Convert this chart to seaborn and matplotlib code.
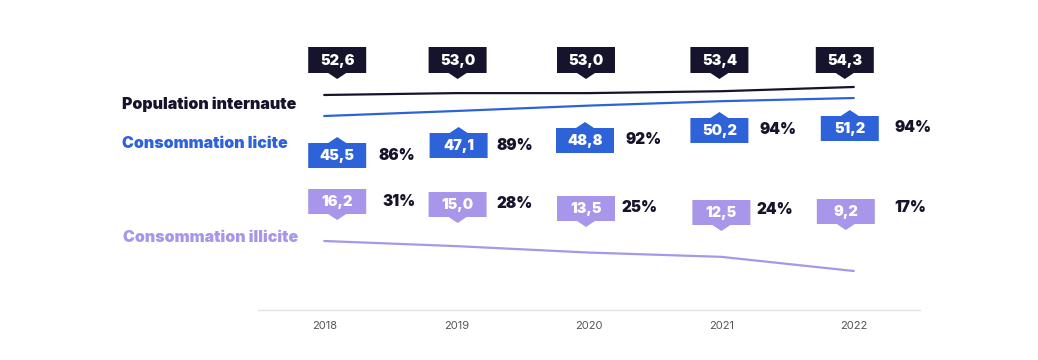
import matplotlib
matplotlib.use("Agg")
import matplotlib.pyplot as plt
import seaborn as sns
import pandas as pd
from matplotlib.patches import Polygon

# data
years = [2018, 2019, 2020, 2021, 2022]
population = [52.6, 53.0, 53.0, 53.4, 54.3]
licite = [45.5, 47.1, 48.8, 50.2, 51.2]
illicite = [16.2, 15.0, 13.5, 12.5, 9.2]
licite_pct = ["86%", "89%", "92%", "94%", "94%"]
illicite_pct = ["31%", "28%", "25%", "24%", "17%"]

# colours
NAVY = "#15142c"
BLUE = "#2e62d9"
LILAC = "#a896ea"
HEAVY = 900

sns.set_theme(style="white")
plt.rcParams["font.family"] = ["Inter", "DejaVu Sans"]

fig = plt.figure(figsize=(10.38, 3.6), dpi=100)
W, H = 1038, 360
ax = fig.add_axes([258 / W, 50 / H, 662 / W, 280 / H])
ax.set_xlim(2017.5, 2022.5)
ax.set_ylim(0, 1)
ax.set_yticks([])
ax.set_xticks(years)
ax.set_xticklabels([str(y) for y in years], fontsize=8, color="#555555")
ax.tick_params(axis="x", length=0, pad=8)
for s in ["top", "right", "left"]:
    ax.spines[s].set_visible(False)
ax.spines["bottom"].set_color("#e3e3e3")
ax.spines["bottom"].set_linewidth(1)

# each series gets its own y scale (schematic chart)
series = [
    (population, NAVY, (6.91, 66.41)),
    (licite, BLUE, (-15.93, 72.74)),
    (illicite, LILAC, (0.1, 65.43)),
]
for vals, col, lim in series:
    tw = ax.twinx()
    df = pd.DataFrame({"year": years, "v": vals})
    sns.lineplot(data=df, x="year", y="v", ax=tw, color=col, linewidth=1.6)
    tw.set_ylim(*lim)
    tw.set_yticks([])
    tw.set_ylabel("")
    tw.set_xlabel("")
    for s in tw.spines.values():
        s.set_visible(False)
ax.set_xlabel("")

# overlay in pixel coordinates for the labels
ov = fig.add_axes([0, 0, 1, 1], zorder=10)
ov.set_xlim(0, W)
ov.set_ylim(H, 0)
ov.axis("off")
ov.patch.set_alpha(0)

def xpix(yr):
    return ax.transData.transform((yr, 0))[0]

def tag(cx, top, bottom, tip, color, text, up=False):
    l, r = cx - 29, cx + 29
    if up:
        pts = [(l, bottom), (r, bottom), (r, top), (cx + 9, top), (cx, tip), (cx - 9, top), (l, top)]
    else:
        pts = [(l, top), (r, top), (r, bottom), (cx + 9, bottom), (cx, tip), (cx - 9, bottom), (l, bottom)]
    ov.add_patch(Polygon(pts, closed=True, facecolor=color, edgecolor="none"))
    ov.text(cx, (top + bottom) / 2 + 0.5, text, color="white", fontsize=10.5,
            fontweight=HEAVY, ha="center", va="center")

def fmt(v):
    return f"{v:.1f}".replace(".", ",")

# box layout (pixels)
pop_dx = [13, 1, -3, -2, -9]
lic_dx = [13, 2, -4, -2, -4]
lic_top = [143, 133, 128, 118, 116]
ill_dx = [13, 1, -3, 0, -8]
ill_top = [189, 192, 196, 200, 199]
lic_pct_x = [397, 515, 644, 778, 913]
lic_pct_y = [155, 145, 139, 130, 127]
ill_pct_x = [399, 515, 639, 775, 910]
ill_pct_y = [201, 203, 207, 210, 208]

for i, yr in enumerate(years):
    tag(xpix(yr) + pop_dx[i], 47, 73, 79, NAVY, fmt(population[i]))
    t = lic_top[i]
    tag(xpix(yr) + lic_dx[i], t, t + 25, t - 6, BLUE, fmt(licite[i]), up=True)
    t = ill_top[i]
    tag(xpix(yr) + ill_dx[i], t, t + 25, t + 31, LILAC, fmt(illicite[i]))
    ov.text(lic_pct_x[i], lic_pct_y[i], licite_pct[i], color=NAVY, fontsize=11,
            fontweight=HEAVY, ha="center", va="center")
    ov.text(ill_pct_x[i], ill_pct_y[i], illicite_pct[i], color=NAVY, fontsize=11,
            fontweight=HEAVY, ha="center", va="center")

ov.text(122, 104, "Population internaute", color=NAVY, fontsize=11.5,
        fontweight=HEAVY, ha="left", va="center")
ov.text(122, 143, "Consommation licite", color=BLUE, fontsize=11.5,
        fontweight=HEAVY, ha="left", va="center")
ov.text(123, 237, "Consommation illicite", color=LILAC, fontsize=11.5,
        fontweight=HEAVY, ha="left", va="center")

fig.savefig("out.png", dpi=100)
